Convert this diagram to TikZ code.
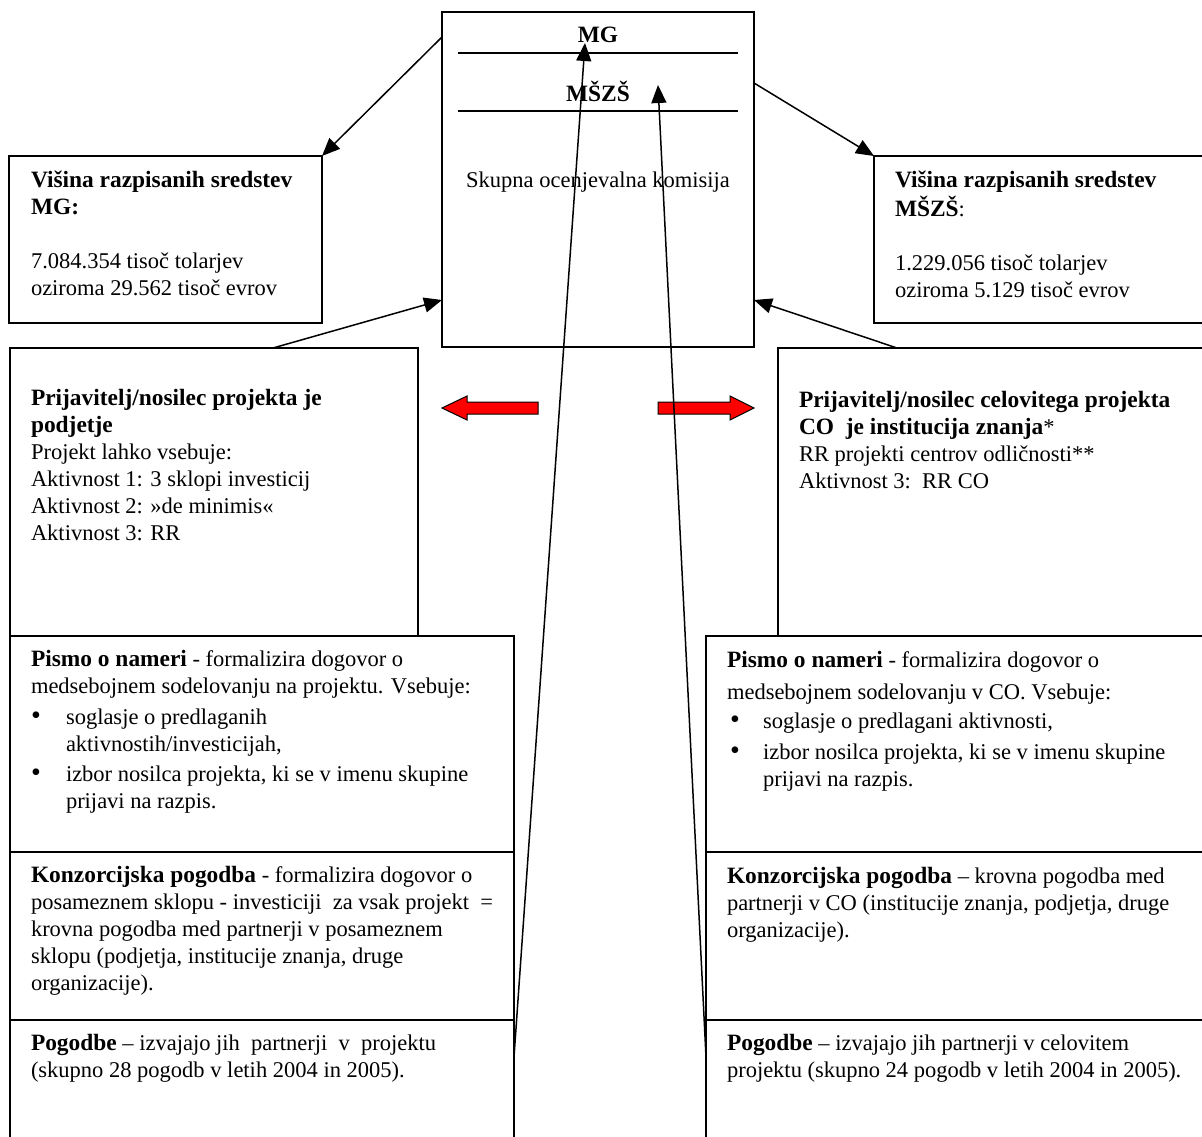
\documentclass[tikz,border=0pt]{standalone}
\usepackage{fontspec}
\setmainfont{Liberation Serif}
\usetikzlibrary{arrows.meta}
\newcommand{\bx}[1]{{\fontsize{23.4}{27}\selectfont\bfseries #1}}
\newcommand{\blt}{{\fontsize{28}{27}\selectfont •}}
\begin{document}
\begin{tikzpicture}[x=1pt,y=-1pt,
  box/.style={draw, line width=1.4pt, inner sep=0pt, outer sep=0pt, anchor=north west},
  txt/.style={inner sep=0pt, outer sep=0pt, align=left, anchor=north west, font=\fontsize{22.5}{27}\selectfont},
  ctxt/.style={inner sep=0pt, outer sep=0pt, anchor=base, font=\fontsize{22.5}{27}\selectfont},
  btxt/.style={inner sep=0pt, outer sep=0pt, anchor=base west, font=\fontsize{22.5}{27}\selectfont},
  arr/.style={line width=1.5pt, -{Triangle[length=18pt,width=15pt]}},
  redarrow/.style={fill=red, draw=black, line width=1pt, line join=miter}]
\useasboundingbox (0,0) rectangle (1202,1137);
\fill[white] (0,0) rectangle (1202,1137);
\clip (0,0) rectangle (1202,1137);

% boxes
\node[box, minimum width=312pt, minimum height=335pt] (ctr) at (442,12) {};
\draw[line width=1.4pt] (458,53) -- (738,53);
\draw[line width=1.4pt] (458,111) -- (738,111);
\node[box, minimum width=313pt, minimum height=167pt] (lt) at (9,156) {};
\node[box, minimum width=345pt, minimum height=167pt] (rt) at (874,156) {};
\node[box, minimum width=408pt, minimum height=288pt] (lm) at (10,348) {};
\node[box, minimum width=440pt, minimum height=288pt] (rm) at (778,348) {};
\node[box, minimum width=504pt, minimum height=216pt] (lp) at (10,636) {};
\node[box, minimum width=504pt, minimum height=168pt] (lk) at (10,852) {};
\node[box, minimum width=504pt, minimum height=140pt] (lg) at (10,1020) {};
\node[box, minimum width=512pt, minimum height=216pt] (rp) at (706,636) {};
\node[box, minimum width=512pt, minimum height=168pt] (rk) at (706,852) {};
\node[box, minimum width=512pt, minimum height=140pt] (rg) at (706,1020) {};

% center texts
\node[ctxt] (tmg) at (598,43) {\bx{MG}};
\node[ctxt] (tmszs) at (598,102) {\bx{MŠZŠ}};
\node[ctxt] (tsok) at (598,187) {Skupna ocenjevalna komisija};

% top boxes
\node[txt] (tlt) at (31,168.1) {\strut\bx{Višina razpisanih sredstev}\\\bx{MG:}\\ \\7.084.354 tisoč tolarjev\\oziroma 29.562 tisoč evrov};
\node[txt] (trt) at (895,168.1) {\strut\bx{Višina razpisanih sredstev}\\\bx{MŠZŠ}:\\ \\1.229.056 tisoč tolarjev\\oziroma 5.129 tisoč evrov};

% middle boxes
\node[txt] (tlm) at (31,386.1) {\strut\bx{Prijavitelj/nosilec projekta je}\\\bx{podjetje}\\Projekt lahko vsebuje:\\Aktivnost 1: 3 sklopi investicij\\Aktivnost 2: »de minimis«\\Aktivnost 3: RR};
\node[txt] (trm) at (799,388.1) {\strut\bx{Prijavitelj/nosilec celovitega projekta}\\\bx{CO\ \ je institucija znanja}*\\RR projekti centrov odličnosti**\\Aktivnost 3:\ \ RR CO};

% left stack
\node[txt] (tlp) at (31,647.1) {\strut\bx{Pismo o nameri} - formalizira dogovor o\\medsebojnem sodelovanju na projektu. Vsebuje:};
\node[btxt] (blp1) at (31,724) {\blt};
\node[txt] (tlp1) at (66,705.1) {\strut soglasje o predlaganih\\aktivnostih/investicijah,};
\node[btxt] (blp2) at (31,781) {\blt};
\node[txt] (tlp2) at (66,762.1) {\strut izbor nosilca projekta, ki se v imenu skupine\\prijavi na razpis.};
\node[txt] (tlk) at (31,863.1) {\strut\bx{Konzorcijska pogodba} - formalizira dogovor o\\posameznem sklopu - investiciji\ \ za vsak projekt\ \ =\\krovna pogodba med partnerji v posameznem\\sklopu (podjetja, institucije znanja, druge\\organizacije).};
\node[txt] (tlg) at (31,1031.1) {\strut\bx{Pogodbe} – izvajajo jih\ \ partnerji\ \ v\ \ projektu\\(skupno 28 pogodb v letih 2004 in 2005).};

% right stack
\node[txt] (trp) at (727,648.1) {\strut\bx{Pismo o nameri} - formalizira dogovor o\\[5pt]medsebojnem sodelovanju v CO. Vsebuje:};
\node[btxt] (brp1) at (730,728) {\blt};
\node[btxt] (trp1) at (763,728) {soglasje o predlagani aktivnosti,};
\node[btxt] (brp2) at (730,759) {\blt};
\node[txt] (trp2) at (763,740.1) {\strut izbor nosilca projekta, ki se v imenu skupine\\prijavi na razpis.};
\node[txt] (trk) at (727,864.1) {\strut\bx{Konzorcijska pogodba} – krovna pogodba med\\partnerji v CO (institucije znanja, podjetja, druge\\organizacije).};
\node[txt] (trg) at (727,1031.1) {\strut\bx{Pogodbe} – izvajajo jih partnerji v celovitem\\projektu (skupno 24 pogodb v letih 2004 in 2005).};

% red block arrows
\draw[redarrow] (442,408) -- (467,396) -- (467,402) -- (538,402) -- (538,414) -- (467,414) -- (467,420) -- cycle;
\draw[redarrow] (754,408) -- (730,396) -- (730,402) -- (658,402) -- (658,414) -- (730,414) -- (730,420) -- cycle;

% connectors
\coordinate (a1s) at (442,37);
\coordinate (a2s) at (754,83);
\coordinate (a3s) at (273,348);
\coordinate (a3e) at (442,300);
\coordinate (a4s) at (897,348);
\coordinate (a4e) at (754,300);
\coordinate (a5s) at (514,1057);
\coordinate (a5e) at (585,43);
\coordinate (a6s) at (706,1057);
\coordinate (a6e) at (658,85);
\draw[arr] (a1s) -- (lt.north east);
\draw[arr] (a2s) -- (rt.north west);
\draw[arr] (a3s) -- (a3e);
\draw[arr] (a4s) -- (a4e);
\draw[arr] (a5s) -- (a5e);
\draw[arr] (a6s) -- (a6e);
\end{tikzpicture}
\end{document}
